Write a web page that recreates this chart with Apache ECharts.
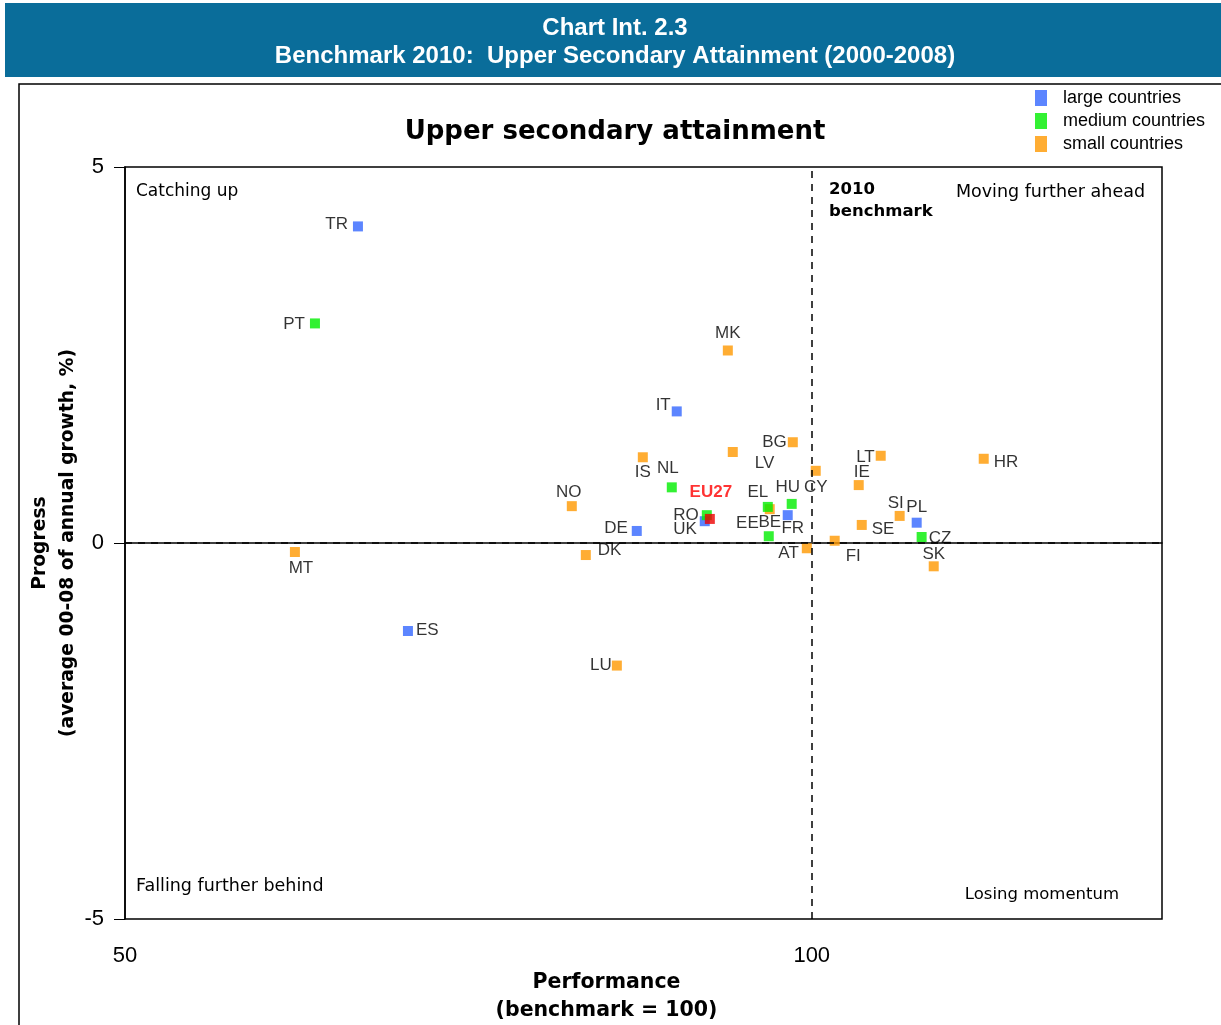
<!DOCTYPE html>
<html>
<head>
<meta charset="utf-8">
<script src="https://cdn.jsdelivr.net/npm/echarts@6/dist/echarts.min.js"></script>
<style>
html,body{margin:0;padding:0;background:#fff;overflow:hidden;}
#chart{width:1221px;height:1025px;}
</style>
</head>
<body>
<div id="chart"></div>
<script>
// ---- data ----
const largeCountries = ['TR','IT','UK','DE','FR','PL','ES'];
const largePerformance = [66.96, 90.17, 92.21, 87.26, 98.25, 107.64, 70.60];
const largeProgress    = [4.21, 1.75, 0.29, 0.16, 0.37, 0.27, -1.17];

const mediumCountries = ['PT','NL','RO','EL','BE','HU','CZ'];
const mediumPerformance = [63.83, 89.81, 92.36, 96.80, 96.87, 98.54, 108.00];
const mediumProgress    = [2.92, 0.74, 0.37, 0.48, 0.09, 0.52, 0.08];

const smallCountries = ['MK','BG','LV','IS','CY','NO','DK','EE','AT','FI','LT','IE','SI','SE','SK','HR','MT','LU'];
const smallPerformance = [93.89, 98.62, 94.25, 87.70, 100.29, 82.53, 83.55, 96.94, 99.64, 101.67, 105.02, 103.42, 106.40, 103.64, 108.88, 112.52, 62.37, 85.81];
const smallProgress    = [2.56, 1.34, 1.21, 1.14, 0.96, 0.49, -0.16, 0.45, -0.07, 0.03, 1.16, 0.77, 0.36, 0.24, -0.31, 1.12, -0.12, -1.63];

const euName = ['EU27'];
const euPerformance = [92.58];
const euProgress = [0.32];

const seriesNames = ['large countries','medium countries','small countries'];
const xTickLabels = [50, 100];
const yTickLabels = [-5, 0, 5];
const benchmarkX = 100;
const benchmarkY = 0;

// ---- label placement (layout only) ----
const labelPlace = {
  TR:['left',[0,-2]], PT:['left',[0,1]], MK:['top',[0,1]], IT:['left',[4,-6]],
  BG:['left',[4,0]], LV:['right',[12,11]], IS:['bottom',[0,-3]], NL:['top',[-4,-1]],
  CY:['bottom',[0,-2]], RO:['left',[2,0]], UK:['left',[2,8]], NO:['top',[-3,5]],
  DE:['left',[1,-3]], DK:['right',[2,-5]], EL:['top',[-10,4]], EE:['left',[-1,14]],
  BE:['top',[1,5]], HU:['top',[-4,2]], FR:['bottom',[5,-5]], AT:['left',[2,5]],
  FI:['right',[1,16]], LT:['left',[4,2]], IE:['top',[3,6]], SI:['top',[-4,6]],
  PL:['top',[0,3]], SE:['right',[0,4]], CZ:['right',[-3,1]], SK:['top',[0,7]],
  HR:['right',[0,4]], MT:['bottom',[6,-2]], ES:['right',[-2,-1]], LU:['left',[5,0]],
  EU27:['top',[1,-8]]
};

function build(names, xs, ys){
  return names.map((n,i)=>{
    const p = labelPlace[n] || ['right',[0,0]];
    return {name:n, value:[xs[i], ys[i]], label:{position:p[0], offset:p[1]}};
  });
}

const ARIAL = 'Liberation Sans, Arial, sans-serif';
const VERD = 'DejaVu Sans, Verdana, sans-serif';
const COMIC = '"Comic Sans MS", "DejaVu Sans", sans-serif';
const labelFont = {show:true, formatter:'{b}', color:'#000', fontSize:17, fontFamily:ARIAL, distance:5};

const chart = echarts.init(document.getElementById('chart'), null, {renderer:'canvas', width:1221, height:1025});
const option = {
  backgroundColor:'#fff',
  animation:false,
  title:[
    {text:'Chart Int. 2.3\nBenchmark 2010:  Upper Secondary Attainment (2000-2008)', left:610, top:9,
     textAlign:'center',
     textStyle:{color:'#fff', fontSize:24, fontWeight:'bold', fontFamily:ARIAL, lineHeight:28, align:'center'}},
    {text:'Upper secondary attainment', left:610, top:114, textAlign:'center',
     textStyle:{color:'#000', fontSize:26, fontWeight:'bold', fontFamily:VERD}}
  ],
  legend:{
    orient:'vertical', left:1030, top:84, itemWidth:12, itemHeight:16, itemGap:5,
    icon:'rect', data:seriesNames,
    textStyle:{fontSize:18, color:'#000', fontFamily:ARIAL, padding:[0,0,0,11]}
  },
  grid:{left:125, top:167, width:1037, height:752, show:true, borderColor:'#000', borderWidth:1.5,
        backgroundColor:'transparent', outerBoundsMode:'none', containLabel:false},
  xAxis:{
    type:'value', min:xTickLabels[0], max:125.5, interval:xTickLabels[1]-xTickLabels[0],
    name:'Performance\n(benchmark = 100)', nameLocation:'middle', nameGap:50, nameMoveOverlap:false,
    nameTextStyle:{fontSize:20.5, fontWeight:'bold', color:'#000', fontFamily:VERD, lineHeight:28, padding:[0,74,0,0]},
    axisLine:{show:true, lineStyle:{color:'#000', width:1.5}},
    axisTick:{show:false},
    axisLabel:{fontSize:22, color:'#000', margin:26, fontFamily:ARIAL, showMaxLabel:false},
    splitLine:{show:false}
  },
  yAxis:{
    type:'value', min:yTickLabels[0], max:yTickLabels[2], interval:yTickLabels[1]-yTickLabels[0],
    name:'Progress\n(average 00-08 of annual growth, %)', nameLocation:'middle', nameGap:43, nameMoveOverlap:false,
    nameTextStyle:{fontSize:18.7, fontWeight:'bold', color:'#000', fontFamily:VERD, lineHeight:28},
    axisLine:{show:true, lineStyle:{color:'#000', width:1.5}},
    axisTick:{show:true, inside:false, length:11, lineStyle:{color:'#000', width:1}},
    axisLabel:{fontSize:22, color:'#000', margin:21, fontFamily:ARIAL},
    splitLine:{show:false}
  },
  graphic:[
    {type:'rect', z:-10, shape:{x:5, y:3, width:1216, height:74}, style:{fill:'#0a6d9a'}},
    {type:'rect', z:-9, shape:{x:19, y:84, width:1210, height:950}, style:{fill:'none', stroke:'#000', lineWidth:1.5}},
    {type:'text', left:136, top:183, style:{text:'Catching up', fontFamily:COMIC, fontSize:17, fill:'#000'}},
    {type:'text', right:76, top:183, style:{text:'Moving further ahead', fontFamily:COMIC, fontSize:17.5, fill:'#000'}},
    {type:'text', left:136, top:877, style:{text:'Falling further behind', fontFamily:COMIC, fontSize:17.5, fill:'#000'}},
    {type:'text', right:102, top:886, style:{text:'Losing momentum', fontFamily:COMIC, fontSize:16.5, fill:'#000'}},
    {type:'text', left:829, top:179, style:{text:'2010\nbenchmark', fontFamily:VERD, fontSize:16.5, fontWeight:'bold', fill:'#000', lineHeight:22}}
  ],
  series:[
    {name:seriesNames[0], type:'scatter', symbol:'rect', symbolSize:10, itemStyle:{color:'#3366ff'},
     label:labelFont, data:build(largeCountries, largePerformance, largeProgress), z:3,
     markLine:{silent:true, symbol:'none', label:{show:false},
       lineStyle:{color:'#000', type:[7,6], width:1.5},
       data:[{xAxis:benchmarkX},{yAxis:benchmarkY}]}},
    {name:seriesNames[1], type:'scatter', symbol:'rect', symbolSize:10, itemStyle:{color:'#00ee00'},
     label:labelFont, data:build(mediumCountries, mediumPerformance, mediumProgress), z:4},
    {name:seriesNames[2], type:'scatter', symbol:'rect', symbolSize:10, itemStyle:{color:'#ff9900'},
     label:labelFont, data:build(smallCountries, smallPerformance, smallProgress), z:2},
    {name:'EU27', type:'scatter', symbol:'rect', symbolSize:10, itemStyle:{color:'#ee0000'},
     label:Object.assign({}, labelFont, {color:'#ff0000', fontWeight:'bold'}),
     data:build(euName, euPerformance, euProgress), z:5}
  ]
};
chart.setOption(option);
</script>
</body>
</html>
